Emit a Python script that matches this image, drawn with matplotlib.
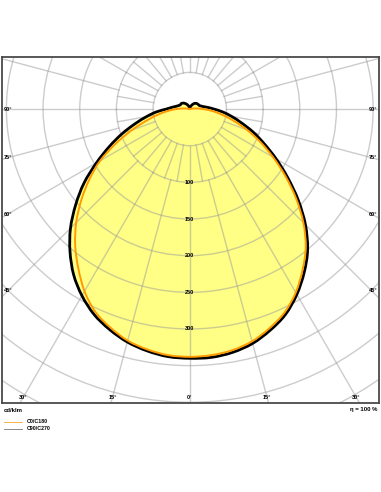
import numpy as np
import matplotlib.pyplot as plt
from matplotlib.patches import Circle, PathPatch
from matplotlib.path import Path
from matplotlib.lines import Line2D

plt.rcParams['font.family'] = ['Liberation Sans', 'DejaVu Sans']

# gamma angles (deg, 0 = straight down) and intensities in cd/klm
gamma = np.arange(0, 181, 5)

c90 = [340, 340, 337, 331, 321, 309, 292, 272, 250, 223, 193, 163, 136, 112, 92, 73, 58, 45, 33,
       25, 19, 16, 14, 13.5, 13, 12.5, 12, 11, 10, 8.5, 7, 5.5, 4, 3, 2.5, 2, 2]
c270 = [340, 339, 335, 329, 320, 309, 294, 276, 254, 230, 203, 176, 147, 121, 98, 77, 60, 46, 32,
        25, 20, 17, 15, 14, 14, 13.5, 12.5, 11.5, 10, 8.5, 7, 5.5, 4, 3, 2.5, 2, 2]
c0 = [338, 337, 334, 328, 318, 306, 289, 268, 246, 219, 189, 159, 131, 106, 83, 62, 45, 31, 18,
      9, 3] + [0] * 16
c180 = [338, 337, 333, 327, 317, 305, 287, 265, 243, 219, 193, 167, 141, 111, 84, 61, 44, 30, 18,
        9, 3] + [0] * 16

circle_values = np.arange(50, 501, 50)
label_values = [100, 150, 200, 250, 300]
side_labels = [90, 75, 60, 45]
bottom_labels = [30, 15, 0]


def outline_path(right, left):
    # closed smooth path through the measured points (right half, then left half back)
    g = np.radians(gamma)
    r_right = np.array(right, float)
    r_left = np.array(left, float)
    x = np.concatenate([r_right * np.sin(g), -(r_left * np.sin(g))[::-1][1:-1]])
    y = np.concatenate([-r_right * np.cos(g), -(r_left * np.cos(g))[::-1][1:-1]])
    p = np.column_stack([x, y])
    n = len(p)
    verts = [p[0]]
    codes = [Path.MOVETO]
    for i in range(n):
        p0, p1, p2, p3 = p[i - 1], p[i], p[(i + 1) % n], p[(i + 2) % n]
        verts += [p1 + (p2 - p0) / 6, p2 - (p3 - p1) / 6, p2]
        codes += [Path.CURVE4] * 3
    return Path(verts, codes)


def spoke(a, r0, r1):
    t = np.radians(a)
    ax.plot([r0 * np.sin(t), r1 * np.sin(t)], [-r0 * np.cos(t), -r1 * np.cos(t)], **grid_kw)


fig = plt.figure(figsize=(3.81, 4.92), dpi=100)
ax = fig.add_axes([2 / 381, 89 / 492, 377 / 381, 346 / 492])
ax.set_xlim(-256, 258)
ax.set_ylim(-401, 71)
ax.set_xticks([])
ax.set_yticks([])
for s in ax.spines.values():
    s.set_color('#4a4a4a')
    s.set_linewidth(1.3)

grid_kw = dict(color='#9a9a9a', alpha=0.5, lw=1.0, zorder=2)

# fill
pb = outline_path(c90, c270)
po = outline_path(c0, c180)
ax.add_patch(PathPatch(pb, fc='#ffff85', ec='none', zorder=1))
ax.add_patch(PathPatch(po, fc='#ffff85', ec='none', zorder=1))

# circles
for r in circle_values:
    ax.add_patch(Circle((0, 0), r, fill=False, ec='#9a9a9a', alpha=0.5, lw=1.0, zorder=2))

# 10 deg spokes in the first ring, 15 deg spokes outside it
for a in np.arange(0, 360, 10):
    spoke(a, 50, 100)
for a in np.arange(0, 360, 15):
    spoke(a, 100, 700)

# curves
ax.add_patch(PathPatch(pb, fc='none', ec='black', lw=2.0, zorder=4, joinstyle='round'))
ax.add_patch(PathPatch(po, fc='none', ec='#ff9a00', lw=1.4, zorder=5, joinstyle='round'))

tk = dict(fontsize=4, fontweight='bold', ha='center', va='center', zorder=6)
for v in label_values:
    ax.text(0, -v, str(v), **tk)
for a in side_labels:
    yv = 0 if a == 90 else -248 / np.tan(np.radians(a))
    ax.text(-248, yv, f'{a}°', **tk)
    ax.text(250, yv, f'{a}°', **tk)
for a in bottom_labels:
    xv = 393 * np.tan(np.radians(a))
    ax.text(-xv, -393, f'{a}°', **tk)
    if a:
        ax.text(xv, -393, f'{a}°', **tk)

fig.text(4 / 381, 1 - 410 / 492, 'cd/klm', fontsize=4.3, fontweight='bold', va='center', ha='left')
fig.text(377 / 381, 1 - 410 / 492, 'η = 100 %', fontsize=4.3, fontweight='bold',
         va='center', ha='right')

fig.add_artist(Line2D([4 / 381, 22 / 381], [1 - 421.5 / 492] * 2, transform=fig.transFigure,
                      color='#f7b24a', lw=0.7))
fig.add_artist(Line2D([4 / 381, 22 / 381], [1 - 429 / 492] * 2, transform=fig.transFigure,
                      color='#8a8a8a', lw=0.7))
fig.text(27 / 381, 1 - 421.5 / 492, 'C0/C180', fontsize=3.8, fontweight='bold',
         va='center', ha='left')
fig.text(27 / 381, 1 - 429 / 492, 'C90/C270', fontsize=3.8, fontweight='bold',
         va='center', ha='left')

fig.savefig('out.png', dpi=100)
